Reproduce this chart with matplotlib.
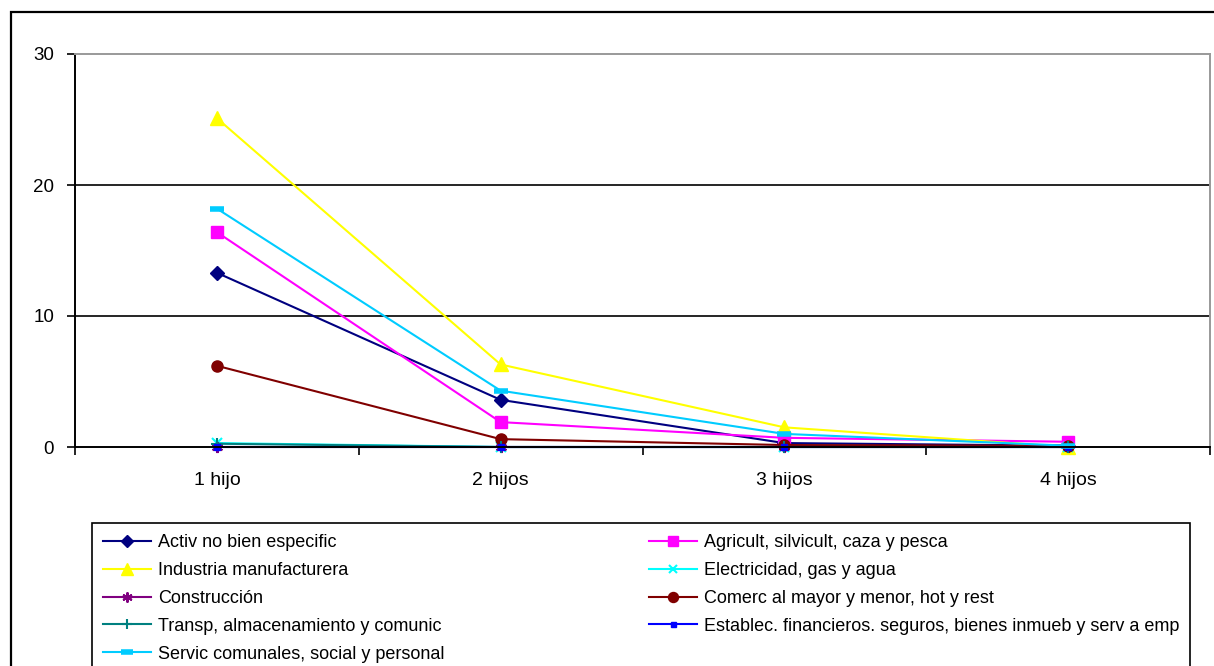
import numpy as np
import matplotlib.pyplot as plt
from matplotlib.patches import Rectangle

plt.rcParams['font.family'] = ['Liberation Sans', 'DejaVu Sans']

categorias = ['1 hijo', '2 hijos', '3 hijos', '4 hijos']

activ = [13.3, 3.6, 0.3, 0.1]
agricult = [16.4, 1.9, 0.7, 0.4]
industria = [25.1, 6.3, 1.5, 0.0]
electricidad = [0.3, 0.0, 0.0, 0.0]
construccion = [0.0, 0.0, 0.0, 0.0]
comerc = [6.2, 0.6, 0.15, 0.1]
transp = [0.25, 0.0, 0.0, 0.0]
establec = [0.0, 0.0, 0.0, 0.0]
servic = [18.2, 4.3, 1.0, 0.1]

W, H = 1214, 666
fig = plt.figure(figsize=(W / 100, H / 100), dpi=100)
ax = fig.add_axes([75 / W, 1 - 447 / H, 1135 / W, 393 / H])

x = np.arange(len(categorias))
lw = 1.5
series = [
    ('Activ no bien especific', activ, '#000080', dict(marker='D', ms=7)),
    ('Agricult, silvicult, caza y pesca', agricult, '#FF00FF', dict(marker='s', ms=8)),
    ('Industria manufacturera', industria, '#FFFF00', dict(marker='^', ms=10)),
    ('Electricidad, gas y agua', electricidad, '#00FFFF', dict(marker='x', ms=7, mew=1.5)),
    ('Construcción', construccion, '#800080', dict(marker=(6, 2, 0), ms=8, mew=1.5)),
    ('Comerc al mayor y menor, hot y rest', comerc, '#800000', dict(marker='o', ms=8)),
    ('Transp, almacenamiento y comunic', transp, '#008080', dict(marker='+', ms=8, mew=1.5)),
    ('Establec. financieros. seguros, bienes inmueb y serv a emp', establec, '#0000FF', dict(marker='s', ms=4)),
    ('Servic comunales, social y personal', servic, '#00CCFF', dict(marker='_', ms=10, mew=4)),
]

lineas = []
for nombre, vals, color, mk in series:
    l, = ax.plot(x, vals, color=color, lw=lw, label=nombre,
                 markerfacecolor=color, markeredgecolor=color, clip_on=False, **mk)
    lineas.append(l)

ax.set_xlim(-0.5, 3.5)
ax.set_ylim(0, 30)
ax.set_yticks([0, 10, 20, 30])
ax.set_xticks([-0.5, 0.5, 1.5, 2.5, 3.5])
ax.set_xticklabels([])
ax.set_xticks(x, minor=True)
ax.set_xticklabels(categorias, minor=True)
ax.tick_params(axis='x', which='minor', length=0, pad=18, labelsize=14)
ax.tick_params(axis='x', which='major', direction='out', length=6, width=1.2, color='black')
ax.tick_params(axis='y', direction='out', length=6, width=1.2, labelsize=13.5, pad=9)
for yv in [10, 20]:
    ax.axhline(yv, color='black', lw=1.2, zorder=0)
ax.spines['left'].set_linewidth(1.4)
ax.spines['bottom'].set_linewidth(1.4)
ax.spines['top'].set_color('#999999')
ax.spines['right'].set_color('#999999')
ax.spines['top'].set_linewidth(1.4)
ax.spines['right'].set_linewidth(1.4)

# borde exterior del grafico
fig.patches.append(Rectangle((11 / W, -0.05), 1.1, 1 - 12 / H + 0.05, transform=fig.transFigure,
                             fill=False, edgecolor='black', lw=1.6))

orden = [0, 2, 4, 6, 8, 1, 3, 5, 7]
leg = fig.legend([lineas[i] for i in orden], [series[i][0] for i in orden],
                 ncol=2, loc='upper left', bbox_to_anchor=(92 / W, 1 - 523 / H),
                 fancybox=False, edgecolor='black', framealpha=1, fontsize=13,
                 handlelength=2.65, handletextpad=0.4, labelspacing=0.6,
                 columnspacing=11.3, borderpad=0.62, borderaxespad=0, markerscale=0.9)
leg.get_frame().set_linewidth(1.2)

fig.savefig('out.png', dpi=100)
